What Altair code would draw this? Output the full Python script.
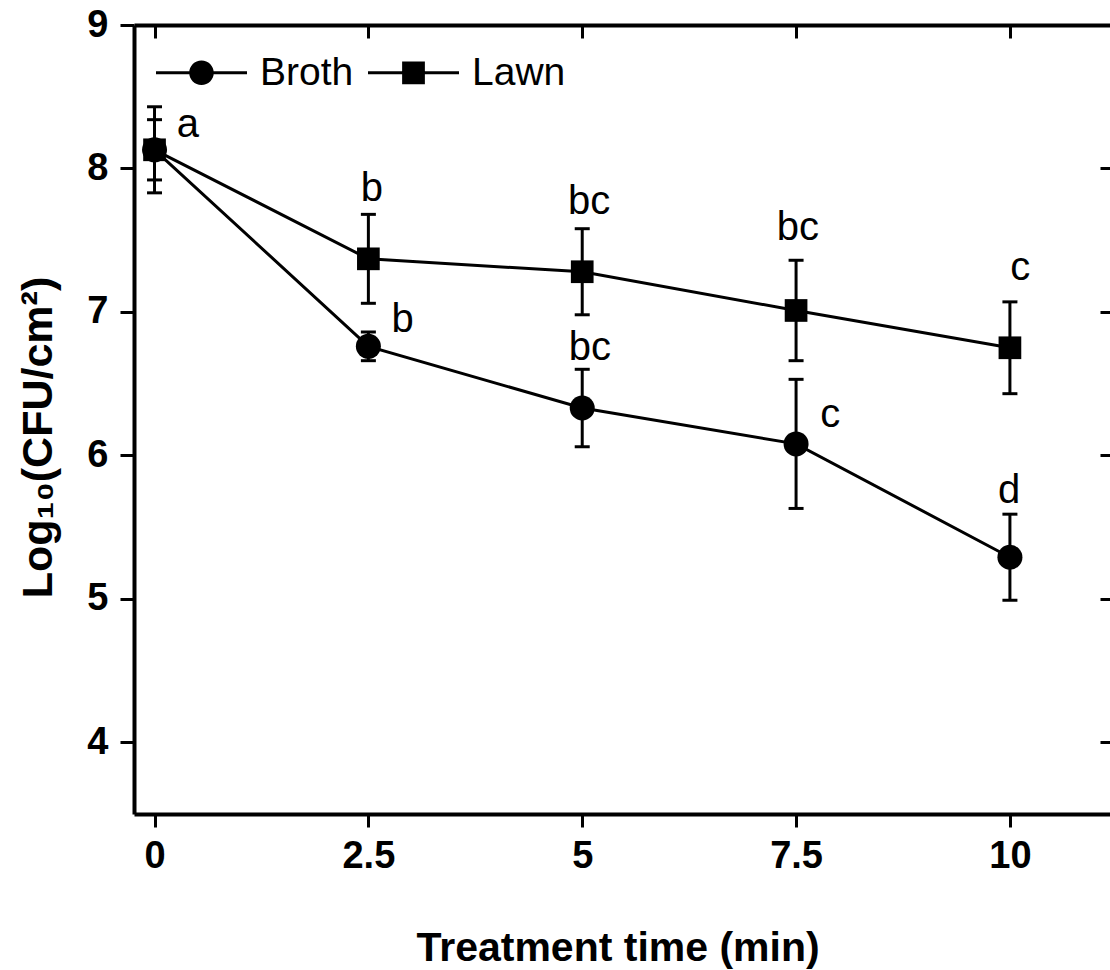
import altair as alt
import pandas as pd

# Survival counts after treatment (mean log10 CFU/cm2 and error)
times = [0, 2.5, 5, 7.5, 10]
broth_mean = [8.13, 6.76, 6.33, 6.08, 5.29]
broth_err = [0.21, 0.10, 0.27, 0.45, 0.30]
lawn_mean = [8.13, 7.37, 7.28, 7.01, 6.75]
lawn_err = [0.30, 0.31, 0.30, 0.35, 0.32]

# Significance letters (text and anchor in data units)
letter_text = ["a", "b", "bc", "bc", "c", "b", "bc", "c", "d"]
letter_x = [0.39, 2.54, 5.08, 7.52, 10.12, 2.90, 5.09, 7.90, 9.99]
letter_y = [8.22, 7.77, 7.68, 7.50, 7.22, 6.86, 6.665, 6.20, 5.67]

series_names = ["Broth", "Lawn"]

rows = []
for name, means, errs in [("Broth", broth_mean, broth_err), ("Lawn", lawn_mean, lawn_err)]:
    for t, m, e in zip(times, means, errs):
        rows.append({"series": name, "time": t, "mean": m, "low": m - e, "high": m + e})
df = pd.DataFrame(rows)
caps = pd.concat([
    df[["series", "time"]].assign(v=df["low"]),
    df[["series", "time"]].assign(v=df["high"]),
])
letters = pd.DataFrame({"text": letter_text, "x": letter_x, "y": letter_y})

FONT = "Liberation Sans"
xscale = alt.Scale(domain=[-0.24, 11.17], nice=False, zero=False)
yscale = alt.Scale(domain=[3.5, 9], nice=False, zero=False)

x_main = alt.Axis(
    orient="bottom", values=times, labelExpr="'' + datum.value",
    tickSize=13, labelPadding=10, title="Treatment time (min)",
    titleX=483.5, titleY=146, titleAlign="center", titleBaseline="alphabetic",
)
y_main = alt.Axis(
    orient="left", values=[4, 5, 6, 7, 8, 9], format="d",
    tickSize=14, labelPadding=12, title="Log₁₀(CFU/cm²)",
    titleAngle=270, titleX=-83, titleY=412, titleAlign="center",
    titleBaseline="alphabetic", titleFontSize=43,
)
x_top_line = alt.Axis(orient="top", ticks=False, labels=False, domain=True, title=None)
x_top_ticks = alt.Axis(orient="top", values=times, ticks=True, labels=False, domain=False,
                       tickSize=13, offset=-13, title=None)
y_right_ticks = alt.Axis(orient="right", values=[4, 5, 6, 7, 8, 9], ticks=True, labels=False,
                         domain=False, tickSize=10, offset=-10, title=None)

base = alt.Chart(df)

lines = base.mark_line(color="black", strokeWidth=3).encode(
    x=alt.X("time:Q", scale=xscale, axis=x_main),
    y=alt.Y("mean:Q", scale=yscale, axis=y_main),
    detail="series:N",
)

bars = base.mark_rule(color="black", strokeWidth=3).encode(
    x=alt.X("time:Q", scale=xscale, axis=x_top_line),
    y=alt.Y("low:Q", scale=yscale, axis=y_right_ticks),
    y2="high:Q",
)

cap_marks = alt.Chart(caps).mark_tick(
    color="black", orient="horizontal", size=15, thickness=3, opacity=1
).encode(
    x=alt.X("time:Q", scale=xscale, axis=x_top_ticks),
    y=alt.Y("v:Q", scale=yscale, axis=None),
)

broth_pts = base.transform_filter(alt.datum.series == "Broth").mark_point(
    filled=True, shape="circle", size=625, color="black", opacity=1
).encode(
    x=alt.X("time:Q", scale=xscale, axis=None),
    y=alt.Y("mean:Q", scale=yscale, axis=None),
)

lawn_pts = base.transform_filter(alt.datum.series == "Lawn").mark_point(
    filled=True, shape="square", size=515, color="black", opacity=1
).encode(
    x=alt.X("time:Q", scale=xscale, axis=None),
    y=alt.Y("mean:Q", scale=yscale, axis=None),
)

letter_marks = alt.Chart(letters).mark_text(
    font=FONT, fontSize=40, color="black", align="center", baseline="alphabetic"
).encode(
    x=alt.X("x:Q", scale=xscale, axis=None),
    y=alt.Y("y:Q", scale=yscale, axis=None),
    text="text:N",
)

# Legend symbols: filled line segments on both sides of the marker
seg = "M-1,-0.035H-0.2V0.035H-1Z M0.2,-0.035H1V0.035H0.2Z "
circle_line = seg + "M0.27,0A0.27,0.27,0,1,1,-0.27,0A0.27,0.27,0,1,1,0.27,0Z"
square_line = seg + "M-0.25,-0.25H0.25V0.25H-0.25Z"

legend_layer = base.transform_filter("false").mark_point(
    filled=True, color="black", size=8281, opacity=1
).encode(
    shape=alt.Shape(
        "series:N",
        scale=alt.Scale(domain=series_names, range=[circle_line, square_line]),
        legend=alt.Legend(
            title=None, orient="none", direction="horizontal",
            legendX=22, legendY=2, padding=0, offset=0,
            symbolSize=8281, symbolStrokeWidth=0,
            symbolFillColor="black", symbolOpacity=1,
            labelFont=FONT, labelFontSize=39, labelColor="black",
            labelOffset=13, columnPadding=14,
        ),
    ),
)

chart = alt.layer(
    lines, bars, cap_marks, broth_pts, lawn_pts, letter_marks, legend_layer
).resolve_axis(
    x="independent", y="independent"
).properties(
    width=976, height=789,
    padding={"left": 134, "top": 25, "right": 0, "bottom": 156},
    autosize=alt.AutoSizeParams(type="none"),
    background="white",
).configure_view(
    stroke="transparent"
).configure_axis(
    grid=False, domainColor="black", domainWidth=4, tickColor="black", tickWidth=3,
    labelFont=FONT, labelFontWeight="bold", labelFontSize=38, labelColor="black",
    titleFont=FONT, titleFontWeight="bold", titleFontSize=41, titleColor="black",
)

chart.save("out.html", embed_options={"renderer": "svg", "actions": False})
